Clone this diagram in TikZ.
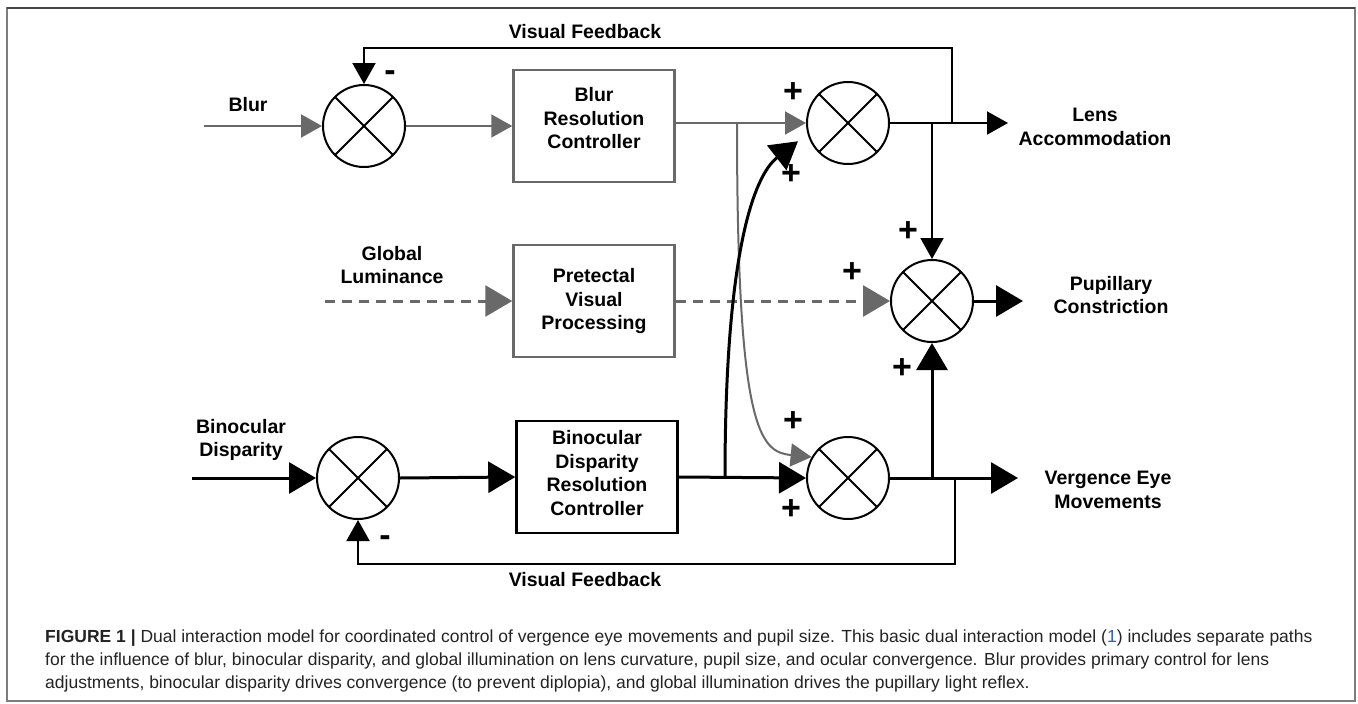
\documentclass[tikz,border=0pt]{standalone}
\usepackage{fontspec}
\setmainfont{Liberation Sans}
\usetikzlibrary{arrows.meta}
\definecolor{linegray}{RGB}{105,105,105}
\definecolor{framegray}{RGB}{125,125,125}
\definecolor{framedark}{RGB}{70,70,70}
\definecolor{captiongray}{RGB}{35,35,35}
\definecolor{citeblue}{RGB}{45,95,175}

\begin{document}
\begin{tikzpicture}[x=1pt, y=-1pt,
    lbl/.style={font=\fontsize{19.5}{23.5}\selectfont\bfseries, align=center, inner sep=0pt},
    sign/.style={font=\fontsize{34}{34}\selectfont\bfseries, inner sep=0pt},
    ctlbox/.style={draw, line width=2.5pt, minimum width=161pt, minimum height=112pt,
                   align=center, font=\fontsize{19.5}{23.5}\selectfont\bfseries, inner sep=0pt},
    sumj/.style={circle, draw, line width=2pt, minimum size=82pt, inner sep=0pt,
                 path picture={\draw[line width=2pt]
                   (path picture bounding box.center) ++(45:45pt) -- ++(225:90pt)
                   (path picture bounding box.center) ++(135:45pt) -- ++(-45:90pt);}},
    sarr/.style={-{Triangle[length=21pt,width=23pt]}, line width=2pt},
    larr/.style={-{Triangle[length=27pt,width=31pt]}, line width=3pt},
    grayln/.style={color=linegray},
    lumdash/.style={dash pattern=on 10pt off 7pt},
]
\useasboundingbox (0,0) rectangle (1358,704);
\draw[framegray, line width=2pt] (7,8) rectangle (1355,701);
\draw[framedark, line width=2pt] (7,8) -- (1355,8);

% summing junctions
\node[sumj] (sblur)  at (364,126) {};
\node[sumj] (slens)  at (848,123) {};
\node[sumj] (spupil) at (932,301) {};
\node[sumj] (sverg)  at (848,478) {};
\node[sumj] (sbino)  at (358,478) {};

% controllers
\node[ctlbox, draw=linegray, text depth=16pt] (blurctl) at (594,126) {Blur\\Resolution\\Controller};
\node[ctlbox, draw=linegray, text depth=4pt] (pretect) at (594,301) {Pretectal\\Visual\\Processing};
\node[ctlbox, text depth=8pt] (binoctl) at (597,477) {Binocular\\Disparity\\Resolution\\Controller};

% labels
\node[lbl] (fbtop)  at (585,32)  {Visual Feedback};
\node[lbl] (fbbot)  at (585,580) {Visual Feedback};
\node[lbl] (blur)   at (248,105) {Blur};
\node[lbl] (glum)   at (392,265) {Global\\Luminance};
\node[lbl] (bdisp)  at (241,440) {Binocular\\Disparity};
\node[lbl] (lens)   at (1095,127) {Lens\\Accommodation};
\node[lbl] (pupil)  at (1111,295) {Pupillary\\Constriction};
\node[lbl] (verg)   at (1108,490) {Vergence Eye\\Movements};

% signs
\node[sign] (mblur) at (390,76)  {-};
\node[sign] (mbino) at (385,541) {-};
\node[sign] (plens1) at (793,93)  {+};
\node[sign] (plens2) at (791,175) {+};
\node[sign] (ppup1)  at (908,232) {+};
\node[sign] (ppup2)  at (852,273) {+};
\node[sign] (ppup3)  at (902,369) {+};
\node[sign] (pverg1) at (793,422) {+};
\node[sign] (pverg2) at (791,510) {+};

% free ends and branch points
\coordinate (blurin)  at (204,126);
\coordinate (lumin)   at (325,301);
\coordinate (binoin)  at (192,478);
\coordinate (gsplit)  at (737,123);
\coordinate (bsplit)  at (725,478);
\coordinate (lsplit)  at (932,123);
\coordinate (lfb)     at (952,123);
\coordinate (vsplit)  at (932,478);
\coordinate (vfb)     at (955,478);
\coordinate (lensout) at (1008,123);
\coordinate (pupout)  at (1023,301);
\coordinate (vergout) at (1018,478);

% blur path
\draw[sarr, grayln] (blurin) -- (sblur.west);
\draw[sarr, grayln] (sblur.east) -- (blurctl.west);
\draw[sarr, grayln] (blurctl.east |- slens) -- (slens.west);
\draw[sarr, grayln] (gsplit) .. controls +(0,307) and +(-52,-5) .. (sverg.150);

% luminance path
\draw[larr, grayln, lumdash] (lumin) -- (pretect.west);
\draw[larr, grayln, lumdash] (pretect.east) -- (spupil.west);

% disparity path
\draw[larr] (binoin) -- (sbino.west);
\draw[larr] (sbino.east) -- (binoctl.west);
\draw[larr] (binoctl.east) -- (sverg.west);
\draw[larr, shorten >=12pt] (bsplit) .. controls +(0,-220) and +(-55,43) .. (slens.195);

% outputs
\draw[sarr] (slens.east) -- (lensout);
\draw[sarr] (lsplit) -- (spupil.north);
\draw[larr] (spupil.east) -- (pupout);
\draw[larr] (sverg.east) -- (vergout);
\draw[larr] (vsplit) -- (spupil.south);

% feedback loops
\draw[sarr] (lfb) -- ++(0,-75) -| (sblur.north);
\draw[sarr] (vfb) -- ++(0,86) -| (sbino.south);

% caption
\node[anchor=north west, inner sep=0pt, align=left, text=captiongray,
      font=\fontsize{17.5}{23}\selectfont] (caption) at (45,630)
  {\textbf{FIGURE 1 |} Dual interaction model for coordinated control of vergence eye movements and pupil size. This basic dual interaction model ({\color{citeblue}1}) includes separate paths\\
   for the influence of blur, binocular disparity, and global illumination on lens curvature, pupil size, and ocular convergence. Blur provides primary control for lens\\
   adjustments, binocular disparity drives convergence (to prevent diplopia), and global illumination drives the pupillary light reflex.};
\end{tikzpicture}
\end{document}
